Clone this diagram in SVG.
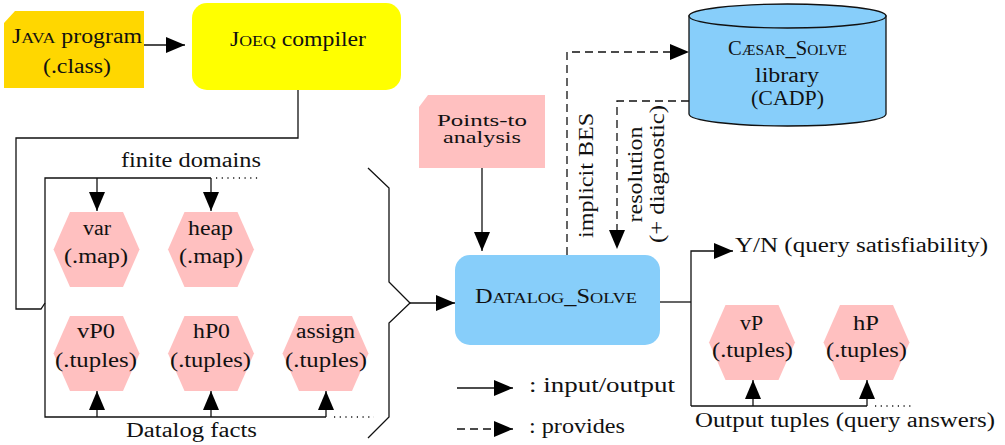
<svg xmlns="http://www.w3.org/2000/svg" width="1005" height="445" viewBox="0 0 1005 445">
<defs>
<style>
text{font-family:"Liberation Serif","Times New Roman",serif;font-size:20px;fill:#111;}
.ln{fill:none;stroke:#111;stroke-width:1.3;}
.dash{fill:none;stroke:#111;stroke-width:1.3;stroke-dasharray:8,5;}
.dot{fill:none;stroke:#111;stroke-width:1.3;stroke-dasharray:1.2,4.5;}
.pink{fill:#FFC0C0;}
.sc{font-size:15px;}
.tight{font-size:17px;}
</style>
<marker id="ah" markerUnits="userSpaceOnUse" markerWidth="20" markerHeight="16" refX="19" refY="8" orient="auto">
<path d="M0,0 L19,8 L0,16 Z" fill="#000"/>
</marker>
<path id="hex" d="M-43,0 L-26.5,-37.5 L26.5,-37.5 L43,0 L26.5,37.5 L-26.5,37.5 Z"/>
</defs>
<rect width="1005" height="445" fill="#fff"/>

<g id="connectors">
<path class="ln" d="M144,45 H185" marker-end="url(#ah)"/>
<path class="ln" d="M298,90 V138 H16 V309 H41 L45,303"/>
<path class="ln" d="M211,178 H45 V417 H326"/>
<path class="dot" d="M216,178 H258"/>
<path class="dot" d="M334,417 H374"/>
<path class="ln" d="M97,178 V211" marker-end="url(#ah)"/>
<path class="ln" d="M211,178 V211" marker-end="url(#ah)"/>
<path class="ln" d="M97,417 V391" marker-end="url(#ah)"/>
<path class="ln" d="M211,417 V391" marker-end="url(#ah)"/>
<path class="ln" d="M326,417 V391" marker-end="url(#ah)"/>
<path class="ln" d="M368,168 L389,188 V282 L410,303 L389,323 V417 L368,438"/>
<path class="ln" d="M410,303 H455" marker-end="url(#ah)"/>
<path class="ln" d="M482,168 V251" marker-end="url(#ah)"/>
<path class="dash" d="M567,255 V52 H689" marker-end="url(#ah)"/>
<path class="dash" d="M689,101 H617 V249" marker-end="url(#ah)"/>
<path class="ln" d="M660,302 H691"/>
<path class="ln" d="M691,406 V251 H733" marker-end="url(#ah)"/>
<path class="ln" d="M691,406 H867"/>
<path class="ln" d="M753,406 V380" marker-end="url(#ah)"/>
<path class="ln" d="M867,406 V380" marker-end="url(#ah)"/>
<path class="dot" d="M875,406 H914"/>
<path class="ln" d="M457,388 H513" marker-end="url(#ah)"/>
<path class="dash" d="M457,429 H513" marker-end="url(#ah)"/>
</g>

<g id="java">
<path d="M15,11 H144 V88 H4 V23 Z" fill="#FFD700"/>
<text x="12" y="43" textLength="130" lengthAdjust="spacingAndGlyphs">J<tspan class="sc">AVA</tspan> program</text>
<text x="43" y="73" textLength="68" lengthAdjust="spacingAndGlyphs">(.class)</text>
</g>

<g id="joeq">
<rect x="192" y="3" width="209" height="87" rx="15" fill="#FFFF00"/>
<text x="230" y="46" textLength="136" lengthAdjust="spacingAndGlyphs">J<tspan class="sc">OEQ</tspan> compiler</text>
</g>

<g id="labels-left">
<text x="121" y="167" textLength="140" lengthAdjust="spacingAndGlyphs">finite domains</text>
<text x="126" y="437" textLength="131" lengthAdjust="spacingAndGlyphs">Datalog facts</text>
</g>

<g id="var">
<use href="#hex" x="96.5" y="249.5" class="pink"/>
<text x="83" y="235" textLength="28" lengthAdjust="spacingAndGlyphs">var</text>
<text x="64" y="263" textLength="64" lengthAdjust="spacingAndGlyphs">(.map)</text>
</g>
<g id="heap">
<use href="#hex" x="211" y="249.5" class="pink"/>
<text x="188" y="235" textLength="45" lengthAdjust="spacingAndGlyphs">heap</text>
<text x="179" y="263" textLength="64" lengthAdjust="spacingAndGlyphs">(.map)</text>
</g>
<g id="vP0">
<use href="#hex" x="96.5" y="353.5" class="pink"/>
<text x="77" y="338" textLength="38" lengthAdjust="spacingAndGlyphs">vP0</text>
<text x="55" y="367" textLength="82" lengthAdjust="spacingAndGlyphs">(.tuples)</text>
</g>
<g id="hP0">
<use href="#hex" x="211" y="353.5" class="pink"/>
<text x="193" y="338" textLength="37" lengthAdjust="spacingAndGlyphs">hP0</text>
<text x="170" y="367" textLength="81" lengthAdjust="spacingAndGlyphs">(.tuples)</text>
</g>
<g id="assign">
<use href="#hex" x="325.5" y="353.5" class="pink"/>
<text x="296" y="338" textLength="59" lengthAdjust="spacingAndGlyphs">assign</text>
<text x="285" y="367" textLength="82" lengthAdjust="spacingAndGlyphs">(.tuples)</text>
</g>

<g id="points-to">
<path d="M428,95 H545 V168 H419 V107 Z" fill="#FFC0C0"/>
<text class="tight" x="437" y="126" textLength="90" lengthAdjust="spacingAndGlyphs">Points-to</text>
<text class="tight" x="443" y="143" textLength="78" lengthAdjust="spacingAndGlyphs">analysis</text>
</g>

<g id="datalog-solve">
<rect x="455" y="255" width="205" height="90" rx="15" fill="#87CEFA"/>
<text x="475" y="303" textLength="162" lengthAdjust="spacingAndGlyphs">D<tspan class="sc">ATALOG</tspan>_S<tspan class="sc">OLVE</tspan></text>
</g>

<g id="caesar-solve">
<path d="M689,16 V114 A98.5,12 0 0 0 886,114 V16 Z" fill="#87CEFA" stroke="#111" stroke-width="1.3"/>
<ellipse cx="787.5" cy="16" rx="98.5" ry="12" fill="#87CEFA" stroke="#111" stroke-width="1.3"/>
<text x="728" y="55" textLength="119" lengthAdjust="spacingAndGlyphs">C<tspan class="sc">ÆSAR</tspan>_S<tspan class="sc">OLVE</tspan></text>
<text x="755" y="82" textLength="64" lengthAdjust="spacingAndGlyphs">library</text>
<text x="751" y="105" textLength="73" lengthAdjust="spacingAndGlyphs">(CADP)</text>
</g>

<g id="edge-labels">
<text transform="translate(593,175.5) rotate(-90)" text-anchor="middle" textLength="125" lengthAdjust="spacingAndGlyphs">implicit BES</text>
<text transform="translate(642,174.5) rotate(-90)" text-anchor="middle" textLength="96" lengthAdjust="spacingAndGlyphs">resolution</text>
<text transform="translate(664,174) rotate(-90)" text-anchor="middle" textLength="138" lengthAdjust="spacingAndGlyphs">(+ diagnostic)</text>
<text x="735" y="252" textLength="253" lengthAdjust="spacingAndGlyphs">Y/N (query satisfiability)</text>
<text x="695" y="427" textLength="300" lengthAdjust="spacingAndGlyphs">Output tuples (query answers)</text>
</g>

<g id="vP">
<use href="#hex" x="752" y="342.5" class="pink"/>
<text x="740" y="330" textLength="23" lengthAdjust="spacingAndGlyphs">vP</text>
<text x="712" y="357" textLength="81" lengthAdjust="spacingAndGlyphs">(.tuples)</text>
</g>
<g id="hP">
<use href="#hex" x="866.5" y="342.5" class="pink"/>
<text x="853" y="330" textLength="26" lengthAdjust="spacingAndGlyphs">hP</text>
<text x="826" y="357" textLength="81" lengthAdjust="spacingAndGlyphs">(.tuples)</text>
</g>

<g id="legend">
<text x="529" y="392" textLength="146" lengthAdjust="spacingAndGlyphs">: input/output</text>
<text x="529" y="433" textLength="96" lengthAdjust="spacingAndGlyphs">: provides</text>
</g>
</svg>
